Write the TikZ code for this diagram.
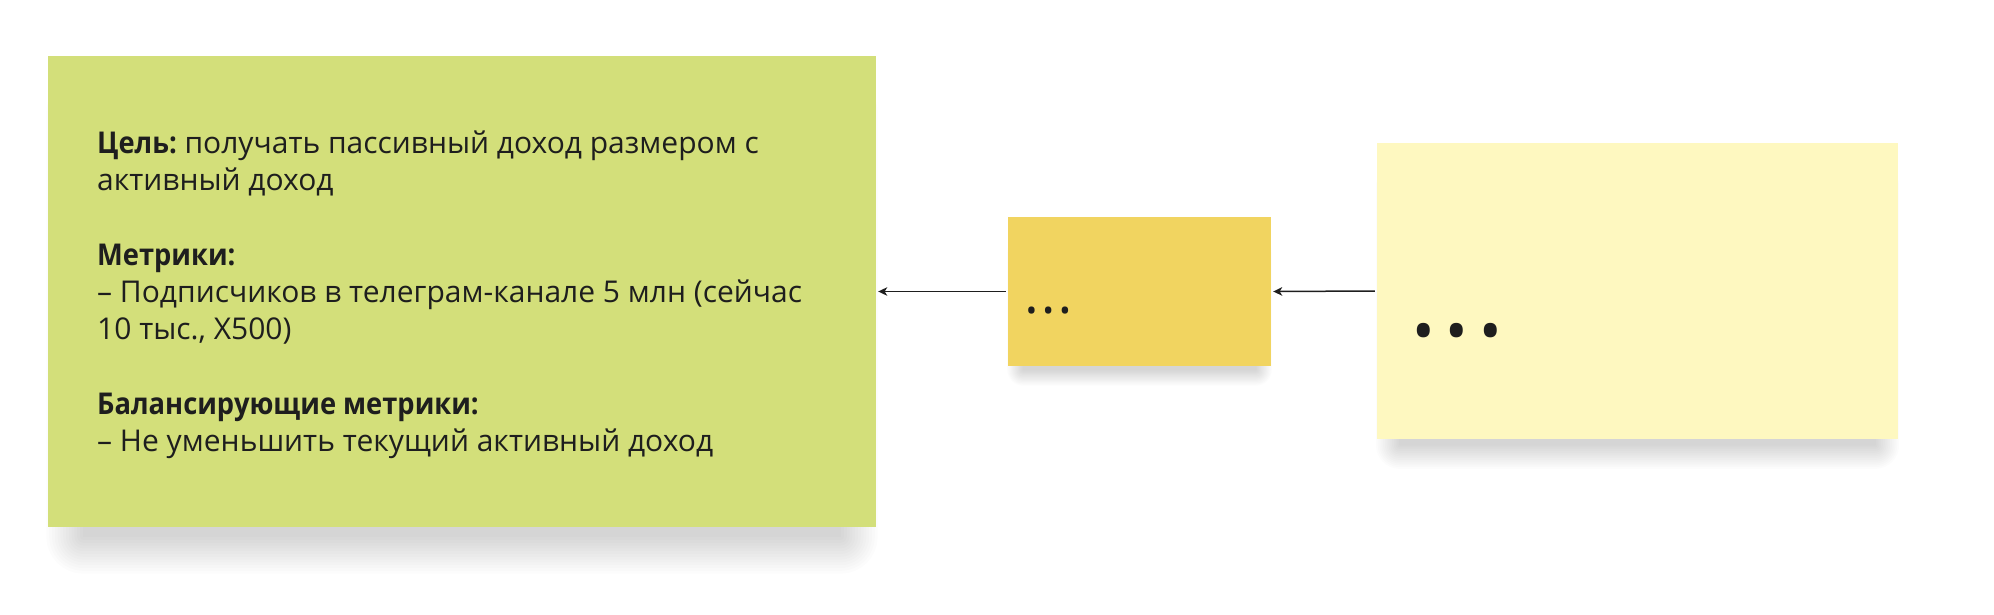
\documentclass[tikz,border=0pt]{standalone}
\usepackage{fontspec}
\usepackage{graphicx}
\setmainfont{Open Sans}
\usetikzlibrary{arrows.meta,calc,backgrounds}
\definecolor{greenbox}{RGB}{211,223,122}
\definecolor{orangebox}{RGB}{241,212,96}
\definecolor{yellowbox}{RGB}{254,248,192}
\definecolor{ink}{RGB}{30,30,30}
\tikzset{
  sticky/.style={rectangle, inner sep=0pt, draw=none},
  shadowlayer/.style={fill=black, fill opacity=0.013},
  link/.style={draw=ink, line width=1.5pt, -{Stealth[length=9pt,width=8.5pt,inset=2.5pt]},
    shorten <=2pt, shorten >=2pt},
  dots/.style={inner sep=0pt, anchor=base west, text=ink},
}
\newcommand{\dotrow}[1]{\makebox[#1]{•}\makebox[#1]{•}\makebox[#1]{•}}
\newcommand{\hd}[1]{\scalebox{0.91}[1]{\textbf{#1}}}
% #1 node name, #2 size factor
\newcommand{\stickyshadow}[2]{%
  \begin{scope}[on background layer]
    \foreach \i in {0,...,13} {
      \pgfmathsetmacro{\e}{\i*2.8*#2}
      \pgfmathsetmacro{\ins}{35*#2}
      \pgfmathsetmacro{\dd}{10*#2}
      \fill[shadowlayer, rounded corners={\e pt+0.5pt}]
        ($(#1.north west)+(\ins-\e,20)$) rectangle ($(#1.south east)+(-\ins+\e,\dd+\e)$);
    }
  \end{scope}}
\begin{document}
\begin{tikzpicture}[x=1pt,y=-1pt]
  \useasboundingbox (0,0) rectangle (1994,614);
  \node[sticky, fill=greenbox, minimum width=828pt, minimum height=471pt] (goal) at (462,291.5) {};
  \node[sticky, fill=orangebox, minimum width=263pt, minimum height=149pt] (mid) at (1139.5,291.5) {};
  \node[sticky, fill=yellowbox, minimum width=521pt, minimum height=296pt] (right) at (1637.5,291) {};
  \stickyshadow{goal}{1}
  \stickyshadow{mid}{0.42}
  \stickyshadow{right}{0.64}
  \node[inner sep=0pt, anchor=base west, text=ink] (goaltext) at (97,153.3) {\parbox[t]{770pt}{%
    \fontsize{30}{37.3}\selectfont
    \hd{Цель:} получать пассивный доход размером с\\
    активный доход\\
    \mbox{}\\
    \hd{Метрики:}\\
    – Подписчиков в телеграм-канале 5 млн (сейчас\\
    10 тыс., X500)\\
    \mbox{}\\
    \hd{Балансирующие метрики:}\\
    – Не уменьшить текущий активный доход}};
  \node[dots, font=\fontsize{30}{36}\selectfont] (middots) at (1023,321) {\dotrow{16.7pt}};
  \node[dots, font=\fontsize{60}{72}\selectfont] (rightdots) at (1407,352) {\dotrow{33.4pt}};
  \draw[link] (right.west) -- (mid.east);
  \draw[link] (mid.west) -- (goal.east);
\end{tikzpicture}
\end{document}
